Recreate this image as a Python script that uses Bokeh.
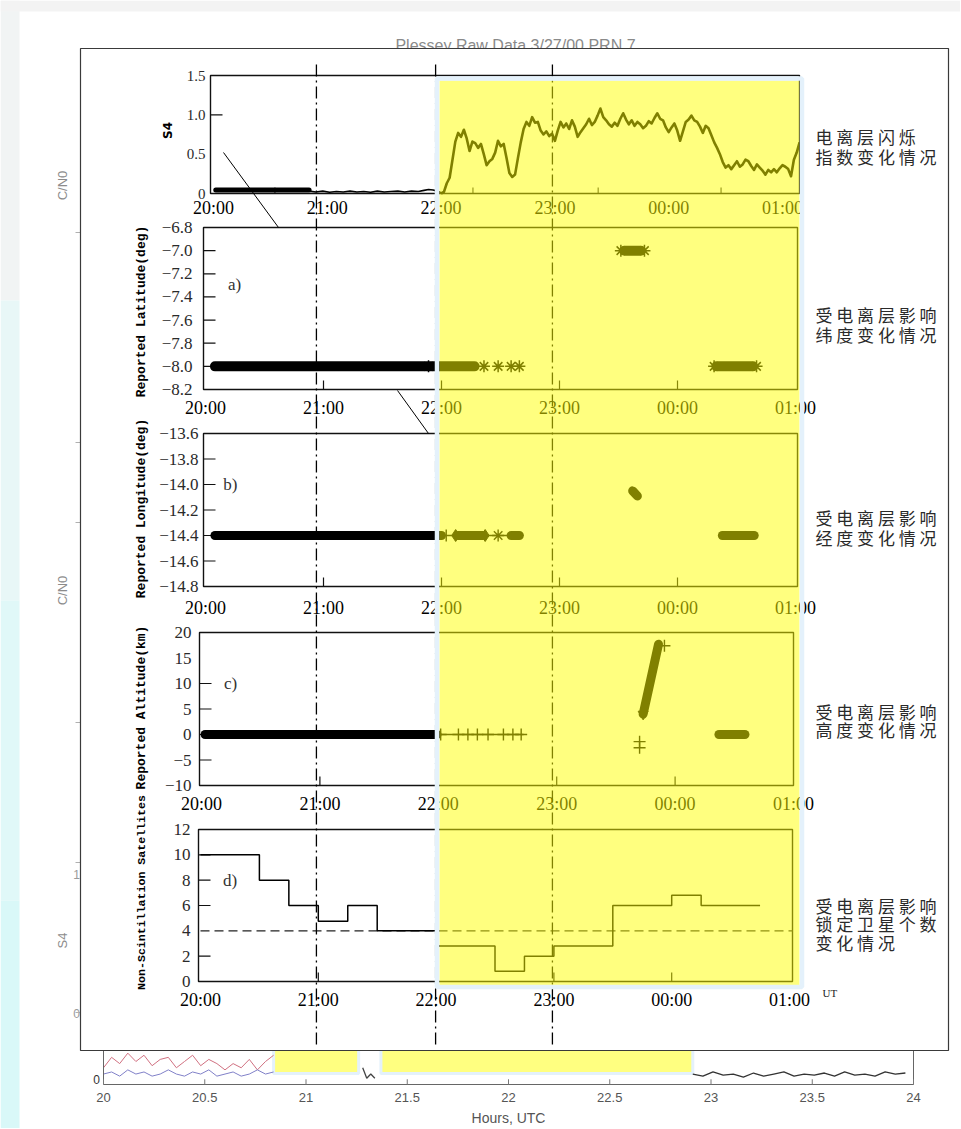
import math
from bokeh.plotting import figure
from bokeh.models import Range1d
from bokeh.core.properties import value
from bokeh.embed import file_html
from bokeh.resources import INLINE

# ============================ DATA ============================
hour_ticks = [20, 21, 22, 23, 24, 25]
hour_labels = ["20:00", "21:00", "22:00", "23:00", "00:00", "01:00"]
event_hours = [20.94, 21.95, 22.94]          # dash-dot event markers

# --- S4 scintillation index ---
s4_ticks = [0, 0.5, 1.0, 1.5]
s4_tick_labels = ["0", "0.5", "1.0", "1.5"]
s4_tick_marks = [1.0]
s4_minor_ticks = [20.54, 22.28, 23.38, 24.46]
s4_band_t0 = [20.02]
s4_band_t1 = [20.84]
s4_band_v = [0.045]
s4_quiet_t = [20.84, 20.90, 20.96, 21.02, 21.08, 21.14, 21.20, 21.26, 21.32, 21.38, 21.44,
              21.50, 21.56, 21.62, 21.68, 21.74, 21.80, 21.85, 21.89, 21.93, 21.97, 22.00]
s4_quiet_v = [0.03, 0.02, 0.03, 0.015, 0.025, 0.02, 0.03, 0.02, 0.025, 0.015, 0.03,
              0.02, 0.025, 0.03, 0.02, 0.03, 0.025, 0.04, 0.05, 0.045, 0.03, 0.01]
s4_scint_t = [22.000, 22.025, 22.050, 22.075, 22.100, 22.125, 22.150, 22.175, 22.200, 22.225,
              22.250, 22.275, 22.300, 22.325, 22.350, 22.375, 22.400, 22.425, 22.450, 22.475,
              22.500, 22.525, 22.550, 22.575, 22.600, 22.625, 22.650, 22.675, 22.700, 22.725,
              22.750, 22.775, 22.800, 22.825, 22.850, 22.875, 22.900, 22.925, 22.950, 22.975,
              23.000, 23.025, 23.050, 23.075, 23.100, 23.125, 23.150, 23.175, 23.200, 23.225,
              23.250, 23.275, 23.300, 23.325, 23.350, 23.375, 23.400, 23.425, 23.450, 23.475,
              23.500, 23.525, 23.550, 23.575, 23.600, 23.625, 23.650, 23.675, 23.700, 23.725,
              23.750, 23.775, 23.800, 23.825, 23.850, 23.875, 23.900, 23.925, 23.950, 23.975,
              24.000, 24.025, 24.050, 24.075, 24.100, 24.125, 24.150, 24.175, 24.200, 24.225,
              24.250, 24.275, 24.300, 24.325, 24.350, 24.375, 24.400, 24.425, 24.450, 24.475,
              24.500, 24.525, 24.550, 24.575, 24.600, 24.625, 24.650, 24.675, 24.700, 24.725,
              24.750, 24.775, 24.800, 24.825, 24.850, 24.875, 24.900, 24.925, 24.950, 24.975,
              25.000, 25.025, 25.050, 25.075, 25.100, 25.125, 25.150]
s4_scint_v = [0.00, 0.02, 0.13, 0.20, 0.43, 0.66, 0.77, 0.72, 0.81, 0.70,
              0.54, 0.66, 0.64, 0.58, 0.63, 0.50, 0.36, 0.41, 0.44, 0.52,
              0.67, 0.60, 0.63, 0.45, 0.26, 0.21, 0.24, 0.45, 0.65, 0.82,
              0.91, 0.86, 0.97, 0.90, 0.91, 0.80, 0.75, 0.79, 0.73, 0.76,
              0.67, 0.80, 0.91, 0.84, 0.89, 0.82, 0.93, 0.85, 0.72, 0.78,
              0.83, 0.88, 0.95, 0.87, 0.91, 0.99, 1.08, 0.97, 0.93, 0.88,
              0.85, 0.90, 0.86, 0.95, 1.02, 0.94, 0.88, 0.93, 0.86, 0.91,
              0.88, 0.83, 0.86, 0.92, 0.89, 0.96, 1.02, 0.95, 0.93, 0.84,
              0.78, 0.84, 0.89, 0.80, 0.67, 0.79, 0.91, 0.94, 0.99, 0.93,
              0.91, 0.85, 0.77, 0.86, 0.83, 0.74, 0.65, 0.58, 0.50, 0.40,
              0.33, 0.36, 0.31, 0.36, 0.41, 0.34, 0.37, 0.43, 0.41, 0.35,
              0.30, 0.37, 0.33, 0.29, 0.24, 0.30, 0.27, 0.31, 0.27, 0.32,
              0.36, 0.34, 0.31, 0.22, 0.43, 0.52, 0.65]

# --- a) reported latitude ---
lat_ticks = [-6.8, -7.0, -7.2, -7.4, -7.6, -7.8, -8.0, -8.2]
lat_tick_labels = ["−6.8", "−7.0", "−7.2", "−7.4", "−7.6", "−7.8", "−8.0", "−8.2"]
lat_tick_marks = [-7.0, -7.2, -7.4, -7.6, -7.8, -8.0]
lat_run_t0 = [20.08, 23.55, 24.33]
lat_run_t1 = [22.28, 23.69, 24.64]
lat_run_v = [-8.0, -7.0, -8.0]
lat_star_t = [21.89, 22.36, 22.48, 22.59, 22.66, 23.52, 23.72, 24.31, 24.67]
lat_star_v = [-8.0, -8.0, -8.0, -8.0, -8.0, -7.0, -7.0, -8.0, -8.0]

# --- b) reported longitude ---
lon_ticks = [-13.6, -13.8, -14.0, -14.2, -14.4, -14.6, -14.8]
lon_tick_labels = ["−13.6", "−13.8", "−14.0", "−14.2", "−14.4", "−14.6", "−14.8"]
lon_tick_marks = [-13.8, -14.0, -14.2, -14.4, -14.6]
lon_run_t0 = [20.08, 22.14, 22.59, 23.62, 24.38]
lon_run_v0 = [-14.4, -14.4, -14.4, -14.05, -14.4]
lon_run_t1 = [22.00, 22.35, 22.66, 23.66, 24.65]
lon_run_v1 = [-14.4, -14.4, -14.4, -14.09, -14.4]
lon_trace_t = [22.00, 22.66]
lon_trace_v = [-14.4, -14.4]
lon_bar_t = [22.04]
lon_bar_v = [-14.4]
lon_diamond_t = [22.12, 22.37]
lon_diamond_v = [-14.4, -14.4]
lon_star_t = [22.48]
lon_star_v = [-14.4]

# --- c) reported altitude ---
alt_ticks = [20, 15, 10, 5, 0, -5, -10]
alt_tick_labels = ["20", "15", "10", "5", "0", "−5", "−10"]
alt_tick_marks = [10, 5, 0, -5]
alt_run_t0 = [20.03, 23.73, 24.37]
alt_run_v0 = [0.0, 4.0, 0.0]
alt_run_t1 = [21.99, 23.86, 24.59]
alt_run_v1 = [0.0, 17.7, 0.0]
alt_trace_t = [22.00, 22.72]
alt_trace_v = [0.0, 0.0]
alt_plus_t = [22.02, 22.17, 22.25, 22.33, 22.42, 22.55, 22.63, 22.70, 23.91, 23.70, 23.70]
alt_plus_v = [0, 0, 0, 0, 0, 0, 0, 0, 17.4, -1.4, -2.6]
alt_tri_t = [23.73]
alt_tri_v = [4.0]

# --- d) non-scintillation satellites ---
sat_ticks = [0, 2, 4, 6, 8, 10, 12]
sat_tick_labels = ["0", "2", "4", "6", "8", "10", "12"]
sat_tick_marks = [2, 6, 8, 10]
sat_edges = [20.0, 20.5, 20.75, 21.0, 21.25, 21.5, 22.0, 22.5, 22.75, 23.0, 23.5, 24.0, 24.25, 24.75]
sat_counts = [10, 8, 6, 4.75, 6, 4, 2.8, 0.8, 2.0, 2.8, 6.0, 6.8, 6.0]
sat_threshold = 4

# --- background (original receiver plot) ---
bg_hours = [20, 20.5, 21, 21.5, 22, 22.5, 23, 23.5, 24]
bg_labels = ["20", "20.5", "21", "21.5", "22", "22.5", "23", "23.5", "24"]
bg_yellow_t0 = [20.84, 21.37]
bg_yellow_t1 = [21.26, 22.91]
bg_pink_t = [20.00, 20.04, 20.08, 20.12, 20.16, 20.20, 20.24, 20.28, 20.32, 20.36, 20.40,
             20.44, 20.48, 20.52, 20.56, 20.60, 20.64, 20.68, 20.72, 20.76, 20.80, 20.84]
bg_pink_v = [0.08, 0.13, 0.10, 0.15, 0.11, 0.14, 0.09, 0.12, 0.13, 0.08, 0.11,
             0.14, 0.09, 0.12, 0.10, 0.07, 0.10, 0.08, 0.12, 0.07, 0.11, 0.14]
bg_blue_v = [0.05, 0.06, 0.04, 0.07, 0.05, 0.06, 0.04, 0.05, 0.07, 0.05, 0.04,
             0.06, 0.05, 0.07, 0.04, 0.05, 0.06, 0.04, 0.05, 0.07, 0.05, 0.06]
bg_black_t = [22.91, 22.96, 23.01, 23.06, 23.11, 23.16, 23.21, 23.26, 23.31, 23.36, 23.41,
              23.46, 23.51, 23.56, 23.61, 23.66, 23.71, 23.76, 23.81, 23.86, 23.91, 23.96]
bg_black_v = [0.05, 0.04, 0.06, 0.045, 0.05, 0.035, 0.055, 0.04, 0.05, 0.06, 0.04,
              0.05, 0.045, 0.055, 0.04, 0.06, 0.045, 0.05, 0.04, 0.06, 0.05, 0.055]
bg_squiggle_t = [21.28, 21.30, 21.32, 21.34]
bg_squiggle_v = [0.08, 0.03, 0.05, 0.03]

notes = [
    ("s4", ["电 离 层 闪 烁", "指 数 变 化 情 况"]),
    ("a", ["受 电 离 层 影 响", "纬 度 变 化 情 况"]),
    ("b", ["受 电 离 层 影 响", "经 度 变 化 情 况"]),
    ("c", ["受 电 离 层 影 响", "高 度 变 化 情 况"]),
    ("d", ["受 电 离 层 影 响", "锁 定 卫 星 个 数", "变 化 情 况"]),
]

# ============================ LAYOUT ============================
W, H = 960, 1128
X0, Y0 = 0, 0
# frame (left, right, top, bottom) in page px; x of 20:00 and 01:00 tick; value range
PANELS = {
    "s4": dict(frame=(210, 799, 75, 193), x20=213, x01=782, v=(0, 1.5), lab_y=207, ylab_gap=5, ysz="15px"),
    "a": dict(frame=(203, 797, 227, 389), x20=205, x01=795, v=(-8.2, -6.8), lab_y=407, ylab_gap=11, ysz="17px"),
    "b": dict(frame=(203, 797, 433, 586), x20=205, x01=795, v=(-14.8, -13.6), lab_y=607, ylab_gap=5, ysz="17px"),
    "c": dict(frame=(199, 793, 632, 785), x20=201, x01=793, v=(-10, 20), lab_y=803, ylab_gap=8, ysz="17px"),
    "d": dict(frame=(198, 792, 829, 981), x20=200, x01=789, v=(0, 12), lab_y=999, ylab_gap=8, ysz="17px"),
}
NOTE_X = 815
NOTE_Y = {"s4": [136, 156], "a": [314, 334], "b": [517, 537], "c": [711, 729], "d": [905, 923, 942]}
YELLOW = (439, 799, 80, 985)
BOX = (80, 948, 48, 1050)

SERIF = value("Liberation Serif")
SANS = value("Liberation Sans")
MONO = value("Liberation Mono")
CJK = value("Noto Sans CJK SC")

p = figure(width=W, height=H, x_range=Range1d(X0, X0 + W), y_range=Range1d(Y0 + H, Y0),
           output_backend="svg", toolbar_location=None, min_border=0,
           x_axis_type=None, y_axis_type=None, outline_line_color=None,
           background_fill_color="white", border_fill_color="white")

xr, yr = {}, {}
for k, c in PANELS.items():
    l, r, t, b = c["frame"]
    kx = (c["x01"] - c["x20"]) / 5.0
    xr[k + "_x"] = Range1d(20 + (X0 - c["x20"]) / kx, 20 + (X0 + W - c["x20"]) / kx)
    vmin, vmax = c["v"]
    ky = (b - t) / (vmax - vmin)
    yr[k + "_y"] = Range1d(vmin - (Y0 + H - b) / ky, vmax + (t - Y0) / ky)
# background chart: 20 h at x=103, 24 h at x=913; value 0 at y=1084, 209 px per unit
xr["bg_x"] = Range1d(20 + (X0 - 103) / 202.5, 20 + (X0 + W - 103) / 202.5)
yr["bg_y"] = Range1d(0 - (Y0 + H - 1084) / 209.0, 0 + (1084 - Y0) / 209.0)
p.extra_x_ranges = xr
p.extra_y_ranges = yr

# ---------------- page background ----------------
p.quad(left=[0, 0, 0, 0], right=[19, 19, 19, 19], top=[0, 300, 600, 900], bottom=[300, 600, 900, H],
       fill_color=["#f1f4f4", "#e8f7f7", "#e0f8f8", "#d9f8f8"], line_color=None)
p.quad(left=[0], right=[W], top=[0], bottom=[11], fill_color="#f3f3f3", line_color=None)

# ---------------- background receiver chart ----------------
bgk = dict(x_range_name="bg_x", y_range_name="bg_y")
p.text(x=[515], y=[45], text=["Plessey Raw Data 3/27/00 PRN 7"], text_font=SANS, text_font_size="16px",
       text_color="#8a8a8a", text_align="center", text_baseline="middle")
p.text(x=[62, 62, 62], y=[185, 590, 940], text=["C/N0", "C/N0", "S4"], angle=math.pi / 2,
       text_font=SANS, text_font_size="13px", text_color="#8c8c8c", text_align="center", text_baseline="middle")
p.text(x=[76, 76], y=[874, 1013], text=["1", "0"], text_font=SANS, text_font_size="12px",
       text_color="#9a9a9a", text_align="center", text_baseline="middle")
p.segment(x0=[75] * 6, x1=[80] * 6, y0=[232, 442, 522, 722, 862, 1012], y1=[232, 442, 522, 722, 862, 1012],
          line_color="#b0b0b0", line_width=1)
p.quad(left=bg_yellow_t0, right=bg_yellow_t1, bottom=[0.053, 0.053], top=[0.3, 0.3],
       fill_color="#ffff80", line_color="#e4f1fb", line_width=3, **bgk)
p.line(bg_pink_t, bg_pink_v, line_color="#d07080", line_width=1, **bgk)
p.line(bg_pink_t, bg_blue_v, line_color="#8080c8", line_width=1, **bgk)
p.line(bg_black_t, bg_black_v, line_color="#333333", line_width=1.3, **bgk)
p.line(bg_squiggle_t, bg_squiggle_v, line_color="#444444", line_width=1.3, **bgk)
p.segment(x0=[20, 20, 24], x1=[24, 20, 24], y0=[0, 0, 0], y1=[0, 0.3, 0.3], line_color="#666666", line_width=1, **bgk)
p.segment(x0=bg_hours, x1=bg_hours, y0=[0] * len(bg_hours), y1=[0.025] * len(bg_hours),
          line_color="#777777", line_width=1, **bgk)
p.text(x=bg_hours, y=[1097] * len(bg_hours), text=bg_labels, x_range_name="bg_x", text_font=SANS,
       text_font_size="13px", text_color="#555555", text_align="center", text_baseline="middle")
p.text(x=[508], y=[1117], text=["Hours, UTC"], text_font=SANS, text_font_size="14px",
       text_color="#555555", text_align="center", text_baseline="middle")
p.text(x=[96], y=[1079], text=["0"], text_font=SANS, text_font_size="12px", text_color="#333333",
       text_align="center", text_baseline="middle")

# ---------------- overlay box ----------------
p.quad(left=[BOX[0]], right=[BOX[1]], top=[BOX[2]], bottom=[BOX[3]], fill_color="white",
       line_color="#3a3a3a", line_width=1.2)

# ---------------- panels ----------------
def frame_and_axes(key, yticks, ylabels, ymarks):
    c = PANELS[key]
    l, r, t, b = c["frame"]
    xn, yn = key + "_x", key + "_y"
    p.quad(left=[l], right=[r], top=[t], bottom=[b], fill_color=None, line_color="#111111", line_width=1.4)
    p.segment(x0=[l] * len(ymarks), x1=[l + 12] * len(ymarks), y0=ymarks, y1=ymarks,
              line_color="#111111", line_width=1.2, y_range_name=yn)
    p.text(x=[l - c["ylab_gap"]] * len(yticks), y=yticks, text=ylabels, y_range_name=yn,
           text_font=SERIF, text_font_size=c["ysz"], text_color="#2a2a2a",
           text_align="right", text_baseline="middle")
    if key != "s4":
        inner = hour_ticks[1:-1]
        p.segment(x0=inner, x1=inner, y0=[b] * len(inner), y1=[b - 9] * len(inner),
                  line_color="#111111", line_width=1.2, x_range_name=xn)
    p.text(x=hour_ticks, y=[c["lab_y"]] * len(hour_ticks), text=hour_labels, x_range_name=xn,
           text_font=SERIF, text_font_size="18px", text_color="black",
           text_align="center", text_baseline="middle")


# S4
frame_and_axes("s4", s4_ticks, s4_tick_labels, s4_tick_marks)
ks = dict(x_range_name="s4_x", y_range_name="s4_y")
p.segment(x0=s4_minor_ticks, x1=s4_minor_ticks, y0=[193] * 4, y1=[187] * 4, line_color="#111111",
          line_width=1, x_range_name="s4_x")
p.segment(x0=s4_band_t0, x1=s4_band_t1, y0=s4_band_v, y1=s4_band_v, line_color="black",
          line_width=5, line_cap="round", **ks)
p.line(s4_quiet_t, s4_quiet_v, line_color="black", line_width=1.6, **ks)
p.line(s4_scint_t, s4_scint_v, line_color="black", line_width=2.6, line_join="round", **ks)
p.text(x=[167], y=[130], text=["S4"], angle=math.pi / 2, text_font=value("DejaVu Sans"),
       text_font_style="bold", text_font_size="12px", text_color="black",
       text_align="center", text_baseline="middle")

# a) latitude
frame_and_axes("a", lat_ticks, lat_tick_labels, lat_tick_marks)
ka = dict(x_range_name="a_x", y_range_name="a_y")
p.segment(x0=lat_run_t0, x1=lat_run_t1, y0=lat_run_v, y1=lat_run_v, line_color="black",
          line_width=10, line_cap="round", **ka)
p.scatter(lat_star_t, lat_star_v, marker="asterisk", size=12, line_color="black", line_width=1.5, **ka)
p.text(x=[20.19], y=[-7.29], text=["a)"], text_font=SERIF, text_font_size="17px", text_color="#333333",
       text_align="left", text_baseline="middle", **ka)

# b) longitude
frame_and_axes("b", lon_ticks, lon_tick_labels, lon_tick_marks)
kb = dict(x_range_name="b_x", y_range_name="b_y")
p.line(lon_trace_t, lon_trace_v, line_color="black", line_width=1.3, **kb)
p.segment(x0=lon_run_t0, x1=lon_run_t1, y0=lon_run_v0, y1=lon_run_v1, line_color="black",
          line_width=9, line_cap="round", **kb)
p.scatter(lon_bar_t, lon_bar_v, marker="dash", angle=math.pi / 2, size=12, line_color="black",
          line_width=1.4, **kb)
p.scatter(lon_diamond_t, lon_diamond_v, marker="diamond", size=12, fill_color="black",
          line_color="black", **kb)
p.scatter(lon_star_t, lon_star_v, marker="asterisk", size=12, line_color="black", line_width=1.4, **kb)
p.text(x=[20.15], y=[-14.0], text=["b)"], text_font=SERIF, text_font_size="17px", text_color="#333333",
       text_align="left", text_baseline="middle", **kb)

# c) altitude
frame_and_axes("c", alt_ticks, alt_tick_labels, alt_tick_marks)
kc = dict(x_range_name="c_x", y_range_name="c_y")
p.line(alt_trace_t, alt_trace_v, line_color="black", line_width=1.3, **kc)
p.segment(x0=alt_run_t0, x1=alt_run_t1, y0=alt_run_v0, y1=alt_run_v1, line_color="black",
          line_width=9, line_cap="round", **kc)
p.scatter(alt_plus_t, alt_plus_v, marker="cross", size=12, line_color="black", line_width=1.4, **kc)
p.scatter(alt_tri_t, alt_tri_v, marker="inverted_triangle", size=10, fill_color="black",
          line_color="black", **kc)
p.text(x=[20.19], y=[10], text=["c)"], text_font=SERIF, text_font_size="17px", text_color="#333333",
       text_align="left", text_baseline="middle", **kc)

# d) satellites
frame_and_axes("d", sat_ticks, sat_tick_labels, sat_tick_marks)
kd = dict(x_range_name="d_x", y_range_name="d_y")
p.segment(x0=[sat_edges[0]], x1=[25.03], y0=[sat_threshold], y1=[sat_threshold], line_color="#222222",
          line_width=1.2, line_dash="9 5", **kd)
p.step(sat_edges, sat_counts + [sat_counts[-1]], mode="after", line_color="black", line_width=1.5, **kd)
p.text(x=[20.19], y=[8], text=["d)"], text_font=SERIF, text_font_size="17px", text_color="#333333",
       text_align="left", text_baseline="middle", **kd)
p.text(x=[822], y=[992], text=["UT"], text_font=SERIF, text_font_size="11px", text_color="#222222",
       text_align="left", text_baseline="middle")

# axis titles
p.text(x=[141, 141, 141], y=[311, 508, 707],
       text=["Reported Latitude(deg)", "Reported Longitude(deg)", "Reported Altitude(km)"],
       angle=math.pi / 2, text_font=MONO, text_font_style="bold", text_font_size="13px",
       text_color="black", text_align="center", text_baseline="middle")
p.text(x=[141], y=[892], text=["Non-Scintillation Satellites"], angle=math.pi / 2, text_font=MONO,
       text_font_style="bold", text_font_size="11.6px", text_color="black",
       text_align="center", text_baseline="middle")

# event lines (dash-dot), leader lines
p.segment(x0=event_hours, x1=event_hours, y0=[64] * 3, y1=[1048] * 3, x_range_name="a_x",
          line_color="black", line_width=1.3, line_dash="12 4 2 4")
p.segment(x0=[223, 397], y0=[152, 390], x1=[278, 428], y1=[227, 433], line_color="black", line_width=1)

# ---------------- yellow highlight ----------------
p.quad(left=[YELLOW[0]], right=[YELLOW[1]], top=[YELLOW[2]], bottom=[YELLOW[3]],
       fill_color="#ffff00", fill_alpha=0.5, line_color=None)
p.quad(left=[YELLOW[0] - 2.5], right=[YELLOW[1] + 2.5], top=[YELLOW[2] - 2], bottom=[YELLOW[3] + 1.5],
       fill_color=None, line_color="#e4f1fb", line_width=4.5)

# ---------------- Chinese notes ----------------
for key, lines in notes:
    p.text(x=[NOTE_X] * len(lines), y=NOTE_Y[key], text=lines, text_font=CJK, text_font_size="17px",
           text_color="#2a2a2a", text_align="left", text_baseline="middle")

open("out.html", "w").write(file_html(p, INLINE))
